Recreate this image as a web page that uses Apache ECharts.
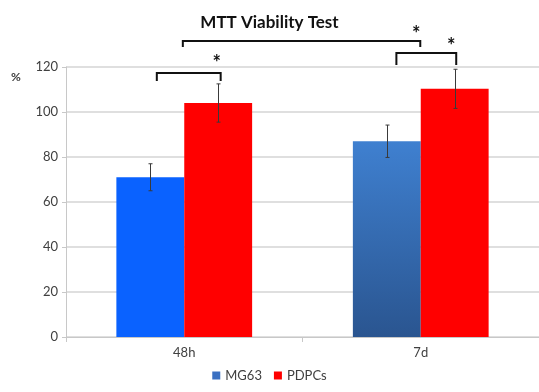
<!DOCTYPE html>
<html><head><meta charset="utf-8">
<script src="https://cdn.jsdelivr.net/npm/echarts@6/dist/echarts.min.js"></script>
<style>html,body{margin:0;padding:0;background:#fff}#c{width:539px;height:392px}</style>
</head><body><div id="c"></div>
<script>
const categories = ['48h', '7d'];
const seriesNames = ['MG63', 'PDPCs'];
const mg63 = [71, 87];
const pdpcs = [104, 110.3];
const mg63Err = [6, 7.2];
const pdpcsErr = [8.5, 8.7];
const yTicks = [0, 20, 40, 60, 80, 100, 120];
// significance brackets, x in category units (0 = 48h centre, 1 = 7d centre):
// [xFrom, xTo, yTop, yLegBottom, starX, starY]
const brackets = [
  [-0.116, 0.154, 117.3, 113.8, 0.137, 123.1],
  [-0.006, 0.998, 131.6, 128.9, 0.981, 136.0],
  [0.897, 1.150, 126.2, 120.9, 1.129, 130.7]
];

const FONT = 'Lato, "Open Sans", sans-serif';
const catGap = 0.426;

function errRender(sIdx) {
  return function (params, api) {
    const c = api.value(0), v = api.value(1), e = api.value(2);
    const band = api.size([1, 0])[0];
    const bw = band * (1 - catGap) / 2;
    const top = api.coord([c, v + e]);
    const bot = api.coord([c, v - e]);
    const x = Math.round(top[0] + (sIdx - 0.5) * bw) + 0.5;
    const st = { stroke: '#3a3a3a', lineWidth: 1 };
    return { type: 'group', children: [
      { type: 'line', shape: { x1: x, y1: top[1], x2: x, y2: bot[1] }, style: st },
      { type: 'line', shape: { x1: x - 2, y1: top[1], x2: x + 2, y2: top[1] }, style: st },
      { type: 'line', shape: { x1: x - 2, y1: bot[1], x2: x + 2, y2: bot[1] }, style: st }
    ]};
  };
}

const chart = echarts.init(document.getElementById('c'));
chart.setOption({
  animation: false,
  title: { text: 'MTT Viability Test', left: 'center', top: 9,
    textStyle: { fontFamily: FONT, fontSize: 17, fontWeight: 'bold', color: '#111' } },
  legend: { data: seriesNames, bottom: 5, left: 'center', itemWidth: 8, itemHeight: 8, itemGap: 12,
    icon: 'rect', textStyle: { fontFamily: FONT, fontSize: 13, color: '#404040' } },
  graphic: [{ type: 'text', left: 11, top: 71, style: { text: '%', font: 'bold 12px ' + FONT, fill: '#404040' } }],
  grid: { left: 66, right: 0, top: 67, bottom: 55, containLabel: false },
  xAxis: { type: 'category', data: categories,
    axisLine: { lineStyle: { color: '#c8c8c8', width: 1 } },
    axisTick: { show: true, lineStyle: { color: '#c8c8c8' }, length: 5 },
    axisLabel: { fontFamily: FONT, fontSize: 13, color: '#404040', margin: 9 } },
  yAxis: { type: 'value', min: 0, max: 120, interval: 20,
    axisLine: { show: true, lineStyle: { color: '#c8c8c8' } },
    axisTick: { show: true, length: 4, lineStyle: { color: '#c8c8c8' } },
    splitLine: { lineStyle: { color: '#d4d4d4', width: 1.5 } },
    axisLabel: { fontFamily: FONT, fontSize: 13, color: '#404040', margin: 8,
      formatter: v => yTicks.includes(v) ? String(v) : '' } },
  series: [
    { name: seriesNames[0], type: 'bar', barGap: '0%', barCategoryGap: (catGap * 100) + '%',
      itemStyle: { color: '#3a70c2' },
      data: mg63.map((v, i) => ({ value: v, itemStyle: { color: i === 0 ? '#0a62ff' :
        new echarts.graphic.LinearGradient(0, 0, 0, 1, [{ offset: 0, color: '#3f80d0' }, { offset: 1, color: '#2a5590' }]) } })) },
    { name: seriesNames[1], type: 'bar', barGap: '0%', barCategoryGap: (catGap * 100) + '%',
      itemStyle: { color: '#ff0000' }, data: pdpcs },
    { type: 'custom', name: 'errMG', renderItem: errRender(0), z: 10,
      data: mg63.map((v, i) => [i, v, mg63Err[i]]) },
    { type: 'custom', name: 'errPD', renderItem: errRender(1), z: 10,
      data: pdpcs.map((v, i) => [i, v, pdpcsErr[i]]) },
    { type: 'custom', name: 'sig', clip: false, z: 10,
      encode: { x: 0, y: 2 },
      renderItem: function (params, api) {
        const band = api.size([1, 0])[0];
        const x0 = api.coord([0, 0])[0];
        const px = v => x0 + v * band;
        const yTop = api.coord([0, api.value(2)])[1];
        const yLeg = api.coord([0, api.value(3)])[1];
        const yStar = api.coord([0, api.value(5)])[1];
        const xa = px(api.value(0)), xb = px(api.value(1)), xs = px(api.value(4));
        const st = { stroke: '#111', lineWidth: 2, fill: null };
        return { type: 'group', children: [
          { type: 'polyline', shape: { points: [[xa, yLeg], [xa, yTop], [xb, yTop], [xb, yLeg]] }, style: st },
          { type: 'text', x: xs, y: yStar + 4, style: { text: '*', font: 'bold 20px ' + FONT, fill: '#111',
            align: 'center', verticalAlign: 'middle' } }
        ]};
      },
      data: brackets }
  ]
});
</script></body></html>
